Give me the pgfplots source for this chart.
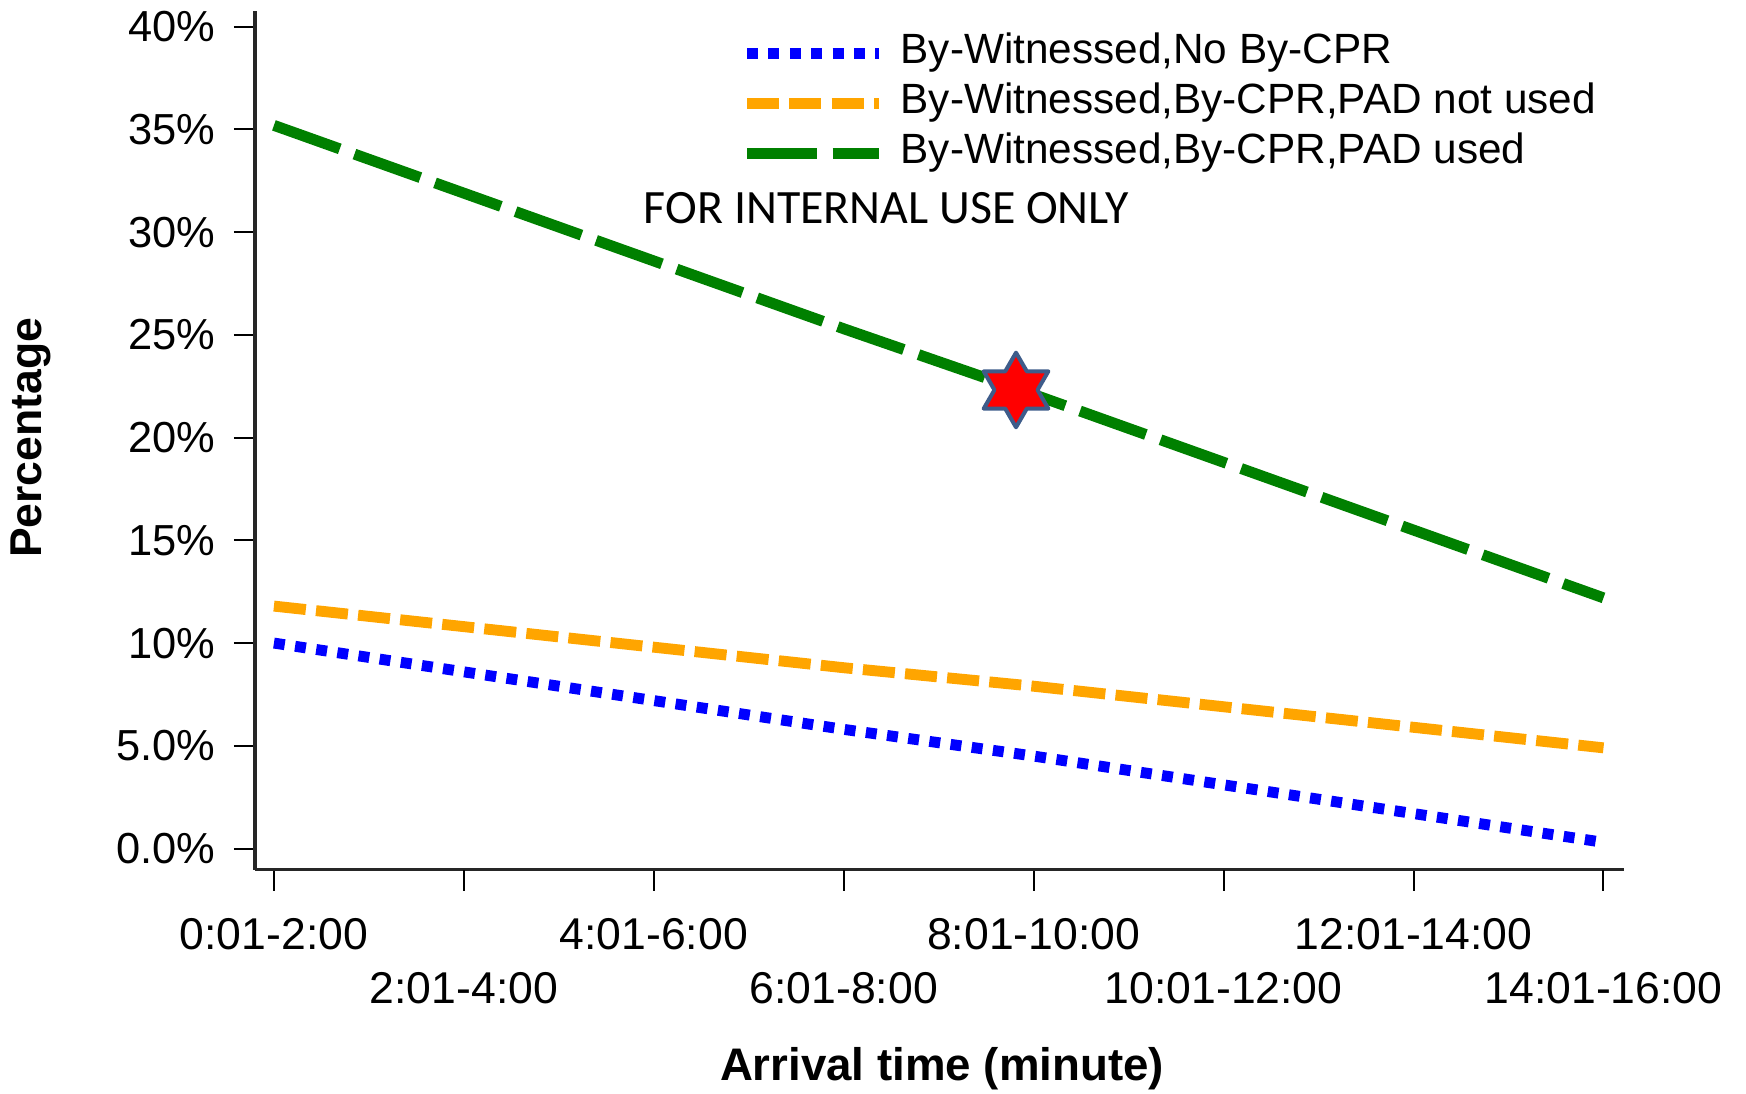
\documentclass[border=0pt]{standalone}
\usepackage{pgfplots}
\pgfplotsset{compat=1.18}
\usepackage{fontspec}
\setmainfont{Liberation Sans}
\newfontfamily\calibri{Carlito}
\definecolor{cblue}{RGB}{0,0,255}
\definecolor{corange}{RGB}{255,165,0}
\definecolor{cgreen}{RGB}{0,128,0}
\definecolor{starborder}{RGB}{62,92,138}
\pgfdeclareplotmark{hexstar}{%
  \pgfpathmoveto{\pgfpointpolar{90}{\pgfplotmarksize}}%
  \pgfpathlineto{\pgfpointpolar{120}{0.57735\pgfplotmarksize}}%
  \pgfpathlineto{\pgfpointpolar{150}{\pgfplotmarksize}}%
  \pgfpathlineto{\pgfpointpolar{180}{0.57735\pgfplotmarksize}}%
  \pgfpathlineto{\pgfpointpolar{210}{\pgfplotmarksize}}%
  \pgfpathlineto{\pgfpointpolar{240}{0.57735\pgfplotmarksize}}%
  \pgfpathlineto{\pgfpointpolar{270}{\pgfplotmarksize}}%
  \pgfpathlineto{\pgfpointpolar{300}{0.57735\pgfplotmarksize}}%
  \pgfpathlineto{\pgfpointpolar{330}{\pgfplotmarksize}}%
  \pgfpathlineto{\pgfpointpolar{0}{0.57735\pgfplotmarksize}}%
  \pgfpathlineto{\pgfpointpolar{30}{\pgfplotmarksize}}%
  \pgfpathlineto{\pgfpointpolar{60}{0.57735\pgfplotmarksize}}%
  \pgfpathclose
  \pgfusepathqfillstroke
}
\begin{document}
\begin{tikzpicture}
\begin{axis}[
  name=ax,
  scale only axis,
  width=614.5pt, height=385.5pt,
  xmin=-0.0997, xmax=7.1055,
  ymin=-1.03, ymax=40.76,
  axis lines=left,
  axis line style={-, line width=1.5pt, black!85},
  /pgf/number format/assume math mode=true,
  xtick={0,2,4,6},
  xticklabels={0:01-2:00,4:01-6:00,8:01-10:00,12:01-14:00},
  extra x ticks={1,3,5,7},
  extra x tick labels={2:01-4:00,6:01-8:00,10:01-12:00,14:01-16:00},
  extra x tick style={xticklabel style={yshift=-24.5pt}},
  ytick={0,5,10,15,20,25,30,35,40},
  yticklabels={0.0\%,5.0\%,10\%,15\%,20\%,25\%,30\%,35\%,40\%},
  tick align=outside,
  major tick length=9.5pt,
  tick style={black, line width=0.9pt},
  yticklabel style={font=\fontsize{19.5}{20}\selectfont, inner sep=0pt, xshift=-8pt},
  xticklabel style={font=\fontsize{20}{22}\selectfont, inner sep=0pt, yshift=-12pt},
  xlabel={Arrival time (minute)},
  ylabel={Percentage},
  xlabel style={font=\bfseries\fontsize{20.5}{22}\selectfont, at={(axis description cs:0.502,-0.23217)}, anchor=center},
  ylabel style={font=\bfseries\fontsize{20}{22}\selectfont, at={(axis description cs:-0.16355,0.503)}, anchor=center},
  legend style={draw=none, fill=none, at={(axis description cs:0.3556,0.975)}, anchor=north west,
    inner sep=0pt, outer sep=0pt, font=\fontsize{19}{21}\selectfont, row sep=4pt, column sep=7.5pt,
    nodes={inner sep=0pt, text height=14pt, text depth=4.5pt}},
  legend cell align=left,
  legend image code/.code={\draw[#1] (0pt,0pt) -- (59pt,0pt);},
]
\addplot[cblue, line width=4.9pt, dash pattern=on 4.9pt off 4.7pt] coordinates {
  (0,10.0) (1,8.6) (2,7.2) (3,5.8) (4,4.5) (5,3.1) (6,1.7) (7,0.3)};
\addlegendentry{By-Witnessed,No By-CPR}
\addplot[corange, line width=4.9pt, dash pattern=on 14.4pt off 4.6pt] coordinates {
  (0,11.8) (1,10.8) (2,9.8) (3,8.8) (4,7.9) (5,6.9) (6,5.9) (7,4.9)};
\addlegendentry{By-Witnessed,By-CPR,PAD not used}
\addplot[cgreen, line width=4.9pt, dash pattern=on 31.4pt off 7pt] coordinates {
  (0,35.2) (1,31.9) (2,28.6) (3,25.3) (4,22.1) (5,18.8) (6,15.5) (7,12.2)};
\addlegendentry{By-Witnessed,By-CPR,PAD used}
\addplot[forget plot, only marks, mark=hexstar, mark size=16.75pt,
  mark options={fill=red, draw=starborder, line width=1.8pt, line join=round, solid}] coordinates {(3.907,22.32)};
\node[anchor=west, inner sep=0pt, font=\calibri\fontsize{21.5}{23}\selectfont] at (axis cs:1.946,31.17) {FOR INTERNAL USE ONLY};
\end{axis}
\pgfresetboundingbox
\path (ax.south west) ++(-114.5pt,-100.5pt) rectangle ++(784pt,491pt);
\end{tikzpicture}
\end{document}
